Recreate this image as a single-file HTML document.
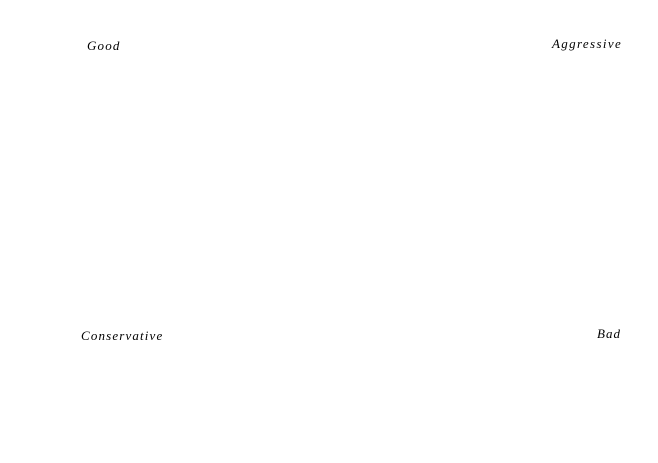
<!DOCTYPE html>
<html><head><style>
html,body{margin:0;padding:0;background:#fff;width:658px;height:463px;overflow:hidden;position:relative}
span{position:absolute;font-family:"Liberation Serif",serif;font-style:italic;font-size:13px;letter-spacing:1.15px;color:#000;white-space:nowrap;line-height:1}
</style></head><body>
<span style="left:87px;top:39px">Good</span>
<span style="left:552px;top:37px;letter-spacing:1.35px">Aggressive</span>
<span style="left:81px;top:329px">Conservative</span>
<span style="left:597px;top:327px;letter-spacing:1px">Bad</span>
</body></html>
